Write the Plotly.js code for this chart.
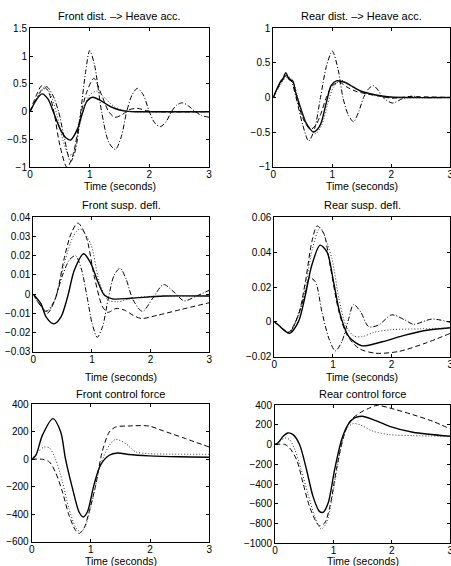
<!DOCTYPE html>
<html><head><meta charset="utf-8">
<script src="https://cdn.plot.ly/plotly-3.0.1.min.js"></script>
<style>html,body{margin:0;padding:0;background:#fff}#chart{width:451px;height:566px}</style>
</head><body><div id="chart"></div>
<script>
// ---------- Titles / labels ----------
var titles = ['Front dist. \u2013> Heave acc.', 'Rear dist. \u2013> Heave acc.', 'Front susp. defl.', 'Rear susp. defl.', 'Front control force', 'Rear control force'];
var xLabel = 'Time (seconds)';
var xTicks = [0, 1, 2, 3];

// ---------- Plot 1: Front dist -> Heave acc ----------
var p1SolidT = [0,0.1,0.2,0.3,0.39,0.5,0.6,0.68,0.8,0.88,0.95,1.05,1.2,1.35,1.5,1.65,1.8,2.2,3];
var p1SolidY = [0,0.2,0.32,0.23,0,-0.3,-0.47,-0.51,-0.3,-0.02,0.18,0.26,0.19,0.09,0.03,0.005,0,0,0];
var p1DashT = [0,0.1,0.2,0.3,0.4,0.5,0.62,0.72,0.85,0.95,1.07,1.2,1.32,1.42,1.55,1.65,1.8,1.95,2.1,3];
var p1DashY = [0,0.28,0.47,0.38,0.0,-0.6,-1.0,-0.78,-0.05,0.35,0.6,0.3,0.0,-0.1,-0.05,0.03,0.06,0.02,0,0];
var p1DotT = [0,0.1,0.2,0.27,0.35,0.45,0.55,0.65,0.72,0.8,0.9,1.0,1.12,1.25,1.4,1.55,1.7,3];
var p1DotY = [0,0.2,0.38,0.42,0.3,-0.05,-0.5,-0.78,-0.75,-0.4,0.05,0.3,0.37,0.25,0.1,0.03,0,0];
var p1DashDotT = [0,0.1,0.2,0.28,0.38,0.48,0.58,0.68,0.76,0.85,0.93,1.0,1.08,1.2,1.32,1.43,1.53,1.62,1.71,1.8,1.9,2.0,2.09,2.18,2.28,2.37,2.46,2.56,2.66,2.77,2.88,3.0];
var p1DashDotY = [0,0.22,0.4,0.45,0.3,0,-0.5,-0.9,-0.7,0,0.7,1.1,0.85,0,-0.55,-0.68,-0.45,0,0.3,0.42,0.3,0,-0.2,-0.27,-0.18,0,0.12,0.16,0.1,0,-0.07,-0.1];

// ---------- Plot 2: Rear dist -> Heave acc ----------
var p2SolidT = [0,0.07,0.13,0.17,0.21,0.27,0.33,0.38,0.47,0.55,0.61,0.68,0.75,0.81,0.9,0.98,1.07,1.21,1.32,1.49,1.72,1.94,2.2,3];
var p2SolidY = [0,0.14,0.24,0.28,0.36,0.26,0.24,0.07,-0.17,-0.36,-0.44,-0.5,-0.46,-0.37,-0.07,0.17,0.24,0.22,0.17,0.09,0.04,0.01,0,0];
var p2DashT = [0,0.07,0.13,0.18,0.22,0.28,0.33,0.4,0.5,0.63,0.72,0.8,0.9,1.0,1.12,1.25,1.4,1.6,1.8,2.0,2.3,3];
var p2DashY = [0,0.13,0.22,0.27,0.32,0.25,0.22,0.0,-0.3,-0.46,-0.4,-0.25,0.0,0.17,0.22,0.15,0.09,0.05,0.02,-0.01,0.01,0];
var p2DotT = [0,0.1,0.18,0.25,0.32,0.4,0.5,0.6,0.72,0.82,0.92,1.02,1.15,1.3,1.5,1.7,2.0,3];
var p2DotY = [0,0.15,0.26,0.3,0.26,0.05,-0.25,-0.43,-0.52,-0.4,-0.1,0.15,0.25,0.17,0.08,0.03,0,0];
var p2DashDotT = [0,0.1,0.22,0.3,0.4,0.5,0.6,0.7,0.8,0.9,1.0,1.1,1.18,1.27,1.36,1.45,1.53,1.62,1.7,1.78,1.86,2.02,2.18,2.35,2.5,3];
var p2DashDotY = [0,0.18,0.32,0.25,-0.05,-0.4,-0.63,-0.45,0.0,0.45,0.67,0.4,0.0,-0.25,-0.35,-0.2,0.0,0.13,0.17,0.1,0.0,-0.08,-0.02,0.02,0,0];

// ---------- Plot 3: Front susp. defl. ----------
var p3SolidT = [0,0.13,0.22,0.35,0.47,0.585,0.7,0.86,0.98,1.1,1.21,1.35,1.66,2.23,3];
var p3SolidY = [0,-0.005,-0.012,-0.0155,-0.012,-0.0014,0.0125,0.021,0.016,0.0064,-0.0005,-0.0025,-0.0022,-0.001,-0.001];
var p3DashT = [0,0.1,0.24,0.38,0.53,0.65,0.76,0.9,1.04,1.18,1.27,1.41,1.55,1.7,1.84,2.12,2.52,3];
var p3DashY = [0,-0.005,-0.01,-0.002,0.019,0.032,0.037,0.03,0.009,-0.0066,-0.0095,-0.0075,-0.0083,-0.011,-0.0127,-0.011,-0.008,-0.0045];
var p3DotT = [0,0.1,0.25,0.38,0.53,0.68,0.8,0.98,1.12,1.27,1.44,1.7,2.0,3];
var p3DotY = [0,-0.005,-0.009,-0.002,0.016,0.03,0.034,0.026,0.007,-0.003,-0.004,-0.002,-0.0012,-0.001];
var p3DashDotT = [0,0.1,0.22,0.35,0.5,0.62,0.72,0.82,0.92,1.0,1.09,1.18,1.28,1.38,1.48,1.58,1.7,1.86,2.04,2.22,2.4,2.57,2.78,3];
var p3DashDotY = [0,-0.005,-0.009,-0.004,0.01,0.018,0.02,0.013,-0.002,-0.015,-0.0225,-0.017,-0.002,0.01,0.0134,0.008,-0.003,-0.009,-0.002,0.005,0.001,-0.0035,-0.001,0.002];

// ---------- Plot 4: Rear susp. defl. ----------
var p4SolidT = [0,0.07,0.256,0.41,0.53,0.64,0.78,0.9,1.01,1.125,1.27,1.49,1.84,2.23,2.63,3];
var p4SolidY = [0,-0.0018,-0.0066,0,0.0154,0.0326,0.044,0.04,0.023,0.004,-0.0085,-0.0137,-0.0114,-0.0076,-0.0047,-0.0034];
var p4DashT = [0,0.07,0.24,0.41,0.53,0.64,0.73,0.84,0.95,1.1,1.24,1.44,1.72,2.12,2.57,3];
var p4DashY = [0,-0.0018,-0.006,0.004,0.023,0.046,0.055,0.051,0.0326,0.006,-0.0076,-0.0152,-0.018,-0.017,-0.0123,-0.0066];
var p4DotT = [0,0.07,0.25,0.41,0.53,0.65,0.78,0.98,1.1,1.22,1.35,1.5,1.7,2.0,2.5,3];
var p4DotY = [0,-0.0018,-0.0063,0.003,0.02,0.042,0.054,0.0365,0.0135,-0.002,-0.008,-0.0085,-0.006,-0.0045,-0.004,-0.0035];
var p4DashDotT = [0,0.07,0.256,0.41,0.53,0.6,0.7,0.81,0.93,1.04,1.15,1.27,1.35,1.47,1.61,1.78,2.0,2.23,2.37,2.69,3];
var p4DashDotY = [0,-0.0018,-0.006,0.004,0.017,0.0253,0.023,0.006,-0.0095,-0.0167,-0.0114,0.002,0.01,0.0058,-0.0028,-0.0018,0.004,0.001,-0.0014,0.0016,-0.0003];

// ---------- Plot 5: Front control force ----------
var p5SolidT = [0,0.07,0.18,0.36,0.49,0.57,0.69,0.8,0.87,0.94,1.05,1.16,1.31,1.45,1.64,1.98,2.49,3];
var p5SolidY = [0,28,174,296,199,4,-214,-384,-420,-384,-190,-44,29,46,35,25,18,15];
var p5DashT = [0,0.18,0.3,0.4,0.52,0.63,0.74,0.8,0.88,0.97,1.08,1.19,1.31,1.42,1.64,1.98,2.2,2.6,3];
var p5DashY = [0,0,-20,-93,-238,-408,-517,-540,-505,-383,-190,53,198,235,242,242,210,150,89];
var p5DotT = [0,0.1,0.21,0.3,0.4,0.52,0.63,0.74,0.83,0.91,1.02,1.16,1.31,1.42,1.59,1.76,1.98,3];
var p5DotY = [0,53,89,82,4,-166,-360,-493,-530,-481,-311,-44,101,145,113,53,41,36];

// ---------- Plot 6: Rear control force ----------
var p6SolidT = [0,0.05,0.14,0.22,0.31,0.42,0.54,0.65,0.76,0.82,0.91,1.02,1.14,1.25,1.36,1.49,1.68,1.96,2.36,3];
var p6SolidY = [0,15,83,117,100,0,-255,-525,-677,-687,-593,-255,49,201,269,286,252,184,124,83];
var p6DashT = [0,0.17,0.25,0.37,0.48,0.59,0.71,0.76,0.85,0.94,1.05,1.16,1.28,1.45,1.62,1.75,1.96,2.36,2.7,3];
var p6DashY = [0,0,-35,-154,-390,-627,-789,-822,-795,-627,-255,49,235,320,370,397,370,302,235,157];
var p6DotT = [0,0.08,0.17,0.25,0.34,0.45,0.56,0.68,0.79,0.88,0.99,1.11,1.22,1.33,1.45,1.68,1.96,2.36,3];
var p6DotY = [0,32,66,49,-52,-255,-492,-728,-857,-795,-492,-86,151,211,201,134,100,90,83];

// ---------- Axis ranges / ticks ----------
var yRanges = [[-1,1.5],[-1,1],[-0.03,0.04],[-0.02,0.06],[-600,400],[-1000,400]];
var yTickSteps = [0.5,0.5,0.01,0.02,200,200];

// ---------- Build figure ----------
var W = 451, H = 566;
// plot boxes in pixels: [left, right, top, bottom]
var boxes = [[30,209,28.3,167.3],[273.3,450.3,28.3,166.7],[33.3,209.3,217.3,351.7],[274.3,450.3,217.3,356.7],[31.7,209.3,404.3,541.7],[275,450.3,405,543.3]];
var titleY = [16.5,16.5,204.5,204.5,393.5,393.5];
var xlabY = [186,186,377,377,561,561];

var styles = {
  solid:   {color:'#000', width:1.4, dash:'solid'},
  dash:    {color:'#000', width:1, dash:'5px,3px'},
  dot:     {color:'#333', width:1, dash:'1px,2px'},
  dashdot: {color:'#000', width:1, dash:'5px,2px,1px,2px'}
};
var series = [
  [['solid',p1SolidT,p1SolidY],['dash',p1DashT,p1DashY],['dot',p1DotT,p1DotY],['dashdot',p1DashDotT,p1DashDotY]],
  [['solid',p2SolidT,p2SolidY],['dash',p2DashT,p2DashY],['dot',p2DotT,p2DotY],['dashdot',p2DashDotT,p2DashDotY]],
  [['solid',p3SolidT,p3SolidY],['dash',p3DashT,p3DashY],['dot',p3DotT,p3DotY],['dashdot',p3DashDotT,p3DashDotY]],
  [['solid',p4SolidT,p4SolidY],['dash',p4DashT,p4DashY],['dot',p4DotT,p4DotY],['dashdot',p4DashDotT,p4DashDotY]],
  [['solid',p5SolidT,p5SolidY],['dash',p5DashT,p5DashY],['dot',p5DotT,p5DotY]],
  [['solid',p6SolidT,p6SolidY],['dash',p6DashT,p6DashY],['dot',p6DotT,p6DotY]]
];

var font = {family:'Liberation Sans, Arial, Helvetica, sans-serif', color:'#000'};
var data = [], annotations = [];
var layout = {width:W, height:H, margin:{l:0,r:0,t:0,b:0}, paper_bgcolor:'#fff', plot_bgcolor:'#fff', showlegend:false, font:{family:font.family, size:10, color:'#000'}};

for (var i = 0; i < 6; i++) {
  var n = i + 1;
  var xa = 'xaxis' + (n === 1 ? '' : n), ya = 'yaxis' + (n === 1 ? '' : n);
  var xr = 'x' + (n === 1 ? '' : n), yr = 'y' + (n === 1 ? '' : n);
  var b = boxes[i];
  layout[xa] = {domain:[b[0]/W, b[1]/W], range:[0,3], anchor:yr, tickvals:xTicks, ticks:'inside', ticklen:3, tickwidth:1, tickcolor:'#000',
    ticklabeloverflow:'allow', ticklabelstandoff:-2,
    showline:true, linecolor:'#000', linewidth:1, mirror:'ticks', showgrid:false, zeroline:false, tickfont:{family:font.family, size:10, color:'#000'}};
  layout[ya] = {domain:[1-b[3]/H, 1-b[2]/H], range:yRanges[i], anchor:xr, dtick:yTickSteps[i], tick0:0, ticks:'inside', ticklen:3, tickwidth:1, tickcolor:'#000',
    showline:true, linecolor:'#000', linewidth:1, mirror:'ticks', showgrid:false, zeroline:false, tickfont:{family:font.family, size:10, color:'#000'}};
  series[i].forEach(function (s) {
    data.push({type:'scatter', mode:'lines', x:s[1], y:s[2], xaxis:xr, yaxis:yr, line:Object.assign({shape:'spline', smoothing:0.8}, styles[s[0]]), hoverinfo:'skip'});
  });
  var cx = (b[0] + b[1]) / 2 / W;
  annotations.push({text:titles[i], xref:'paper', yref:'paper', x:cx, y:1-titleY[i]/H, xanchor:'center', yanchor:'middle', showarrow:false, font:{family:font.family, size:11, color:'#000'}});
  annotations.push({text:xLabel, xref:'paper', yref:'paper', x:cx, y:1-xlabY[i]/H, xanchor:'center', yanchor:'middle', showarrow:false, borderpad:0, font:{family:font.family, size:10.5, color:'#000'}});
}
layout.annotations = annotations;
Plotly.newPlot('chart', data, layout, {staticPlot:true, displayModeBar:false});
</script></body></html>
